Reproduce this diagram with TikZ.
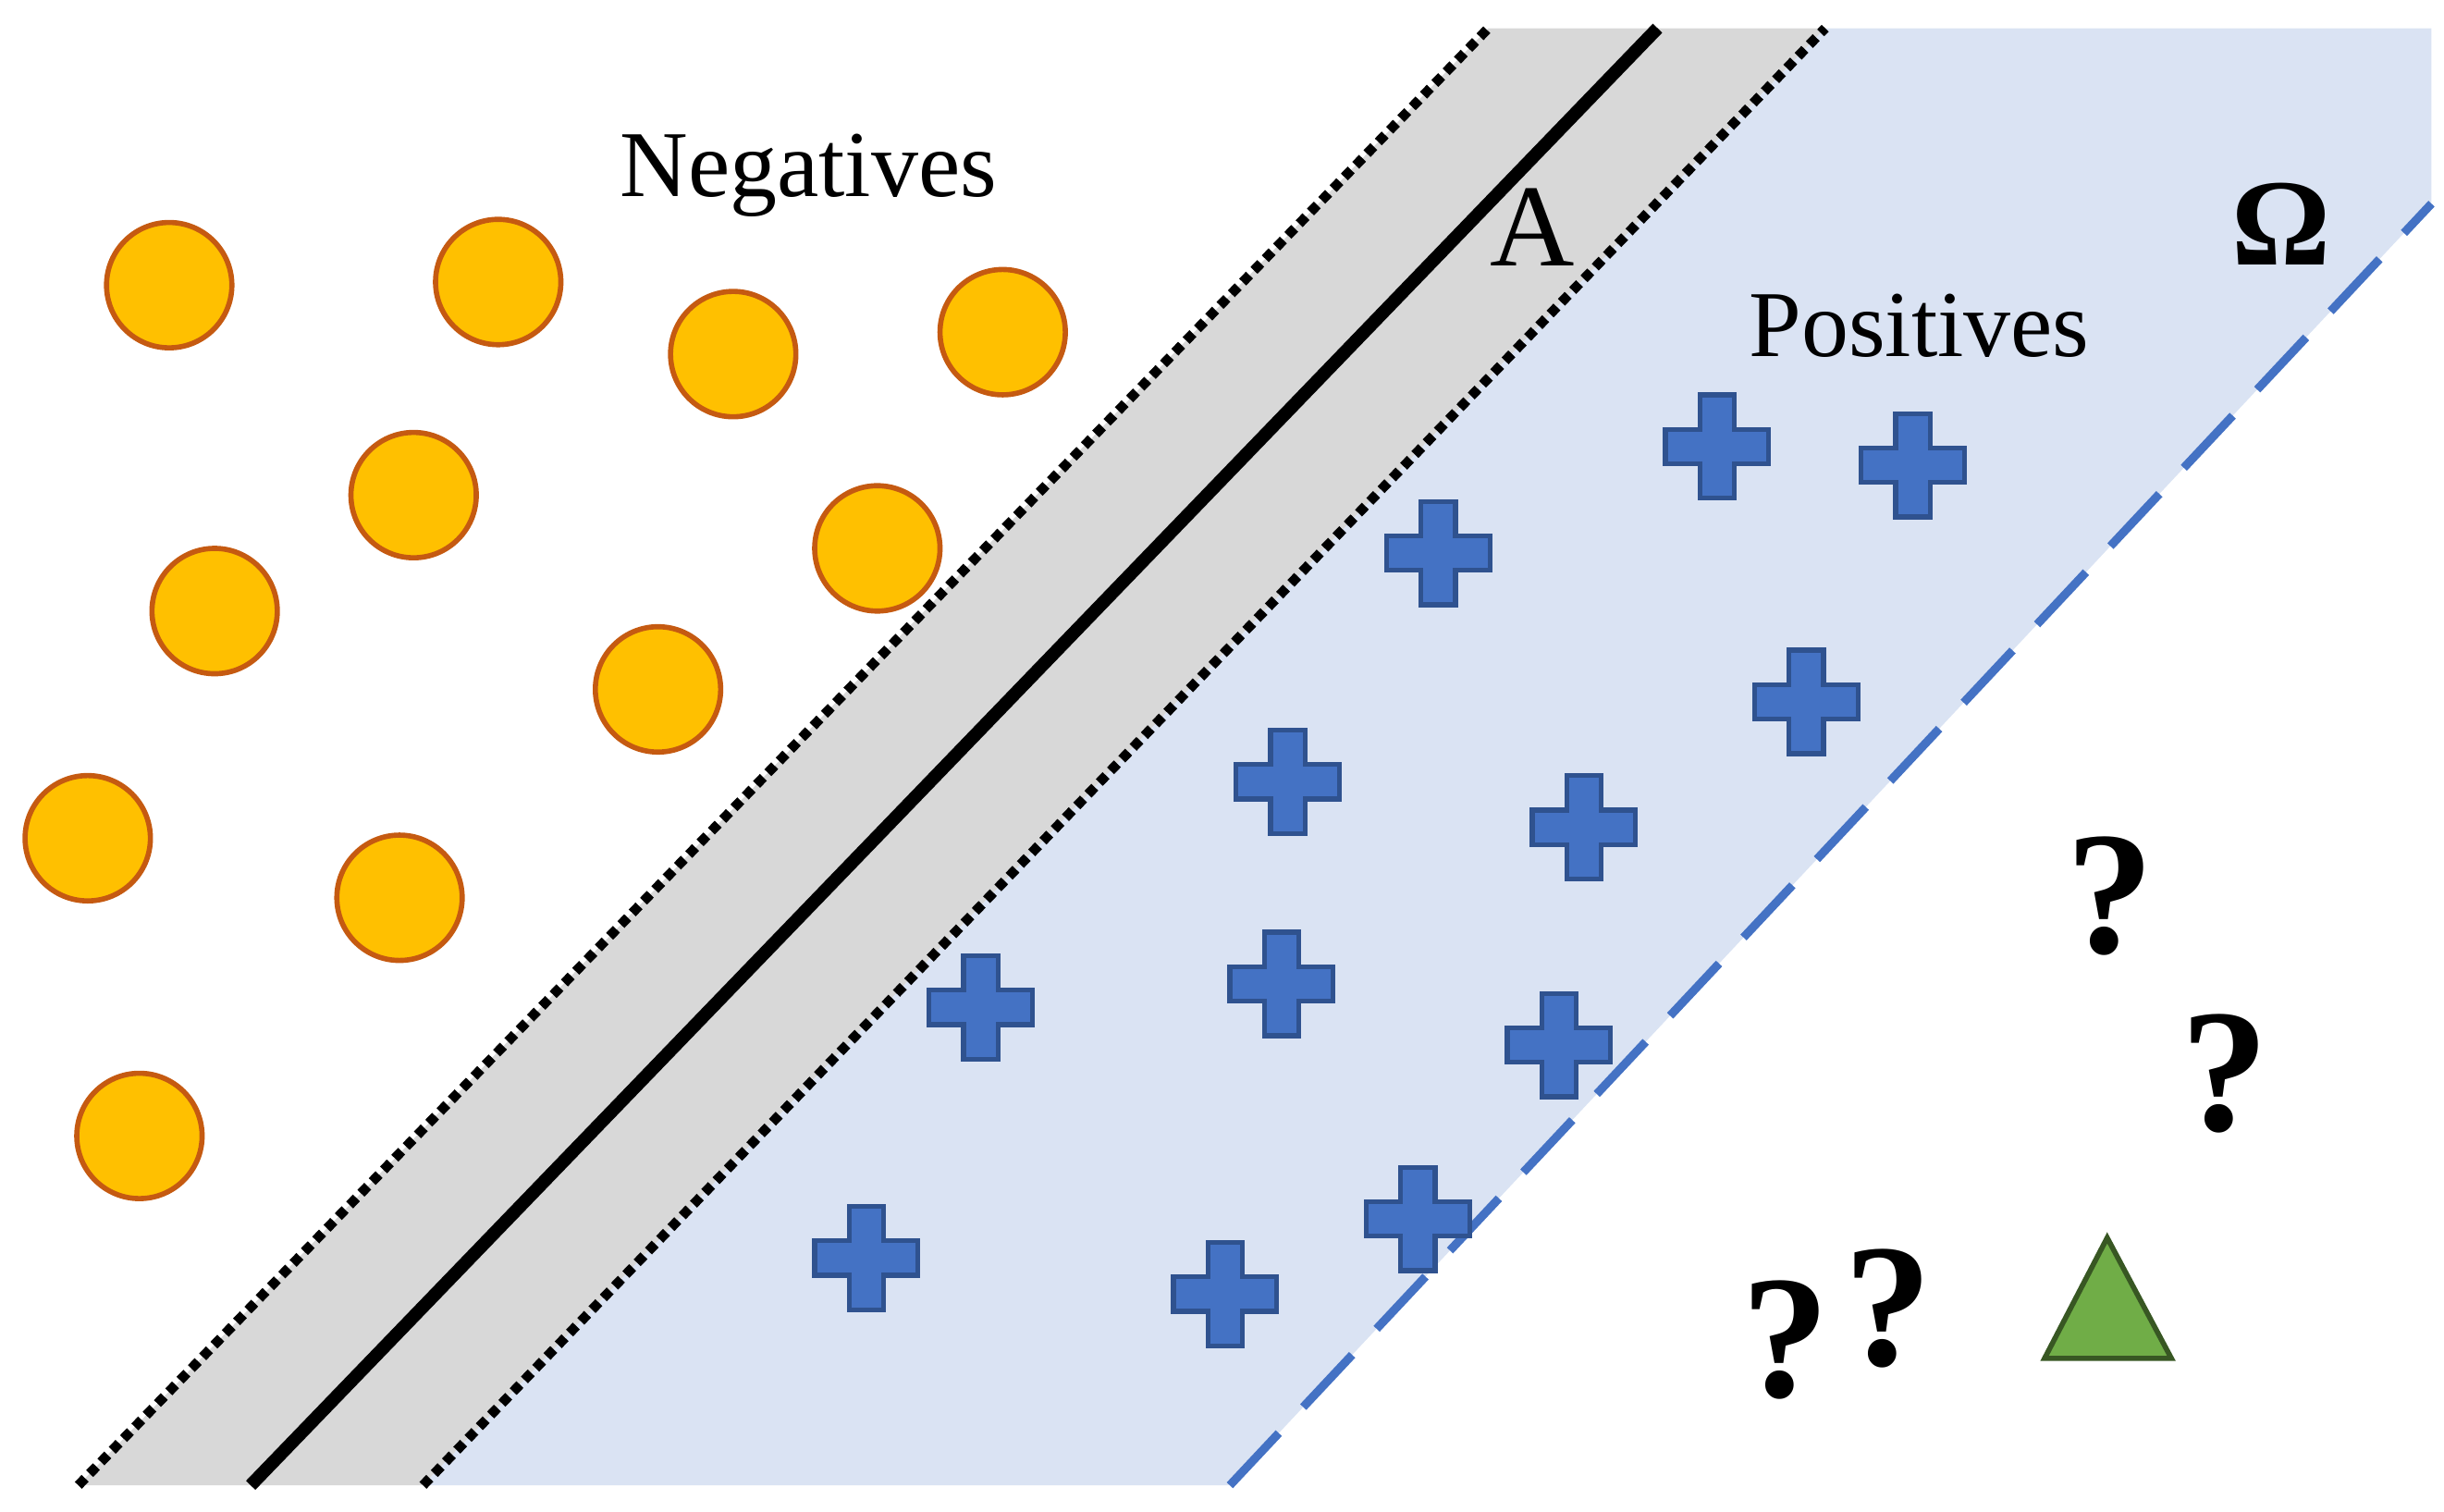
\documentclass[tikz,border=0pt]{standalone}
\usepackage{fontspec}
\setmainfont{Liberation Serif}
\definecolor{pb}{RGB}{68,114,196}
\definecolor{pbd}{RGB}{47,82,143}
\definecolor{lb}{RGB}{218,227,243}
\definecolor{gy}{RGB}{216,216,216}
\definecolor{og}{RGB}{255,192,0}
\definecolor{ogd}{RGB}{197,90,17}
\definecolor{gr}{RGB}{112,173,71}
\definecolor{grd}{RGB}{56,87,35}
\begin{document}
\begin{tikzpicture}[x=0.01694cm,y=-0.01694cm,
 neg/.style={circle,minimum size=80*0.01694cm,inner sep=0,fill=og,draw=ogd,line width=1.6pt},
 q/.style={font=\fontsize{54}{60}\selectfont\bfseries},
 lab/.style={font=\fontsize{29}{34}\selectfont}]
\useasboundingbox (0,0) rectangle (1560,965);
\fill[gy] (50,948) -- (950,18) -- (1165,18) -- (270,948) -- cycle;
\fill[lb] (270,948) -- (1165,18) -- (1552,18) -- (1552,130) -- (785,948) -- cycle;
\draw[line width=3pt,dotted] (50,948) -- (950,18);
\draw[line width=3pt,dotted] (270,948) -- (1165,18);
\draw[line width=4pt] (160,948) -- (1058,18);
\draw[line width=2.6pt,pb,dash pattern=on 22pt off 11pt] (785,948) -- (1552,130);
\foreach \x/\y [count=\i] in {108/182,318/180,468/226,640/212,264/316,137/390,560/350,420/440,56/535,255/573,89/725}
  \node[neg] (n\i) at (\x,\y) {};
\foreach \x/\y [count=\i] in {1096/285,1221/297,918/353,1153/448,822/499,1011/528,626/643,818/628,995/667,905/778,553/803,782/826}{
  \coordinate (p\i) at (\x,\y);
  \draw[fill=pb,draw=pbd,line width=1.5pt] ([shift={(-11,-33)}]p\i) -- ++(22,0) -- ++(0,22) -- ++(22,0) -- ++(0,22) -- ++(-22,0) -- ++(0,22) -- ++(-22,0) -- ++(0,-22) -- ++(-22,0) -- ++(0,-22) -- ++(22,0) -- cycle;}
\node[lab] (neg) at (516,112) {Negatives};
\node[lab] (pos) at (1225,208) {Positives};
\node[font=\fontsize{36}{40}\selectfont] (A) at (978,145) {A};
\node[font=\fontsize{38}{42}\selectfont\bfseries] (om) at (1456,143) {Ω};
\node[q] (q1) at (1347,572) {?};
\node[q] (q2) at (1420,685) {?};
\node[q] (q3) at (1140,855) {?};
\node[q] (q4) at (1205,835) {?};
\coordinate (t1) at (1345,790);
\coordinate (t2) at (1305,867);
\coordinate (t3) at (1386,867);
\draw[fill=gr,draw=grd,line width=1.6pt] (t1) -- (t2) -- (t3) -- cycle;
\end{tikzpicture}
\end{document}
